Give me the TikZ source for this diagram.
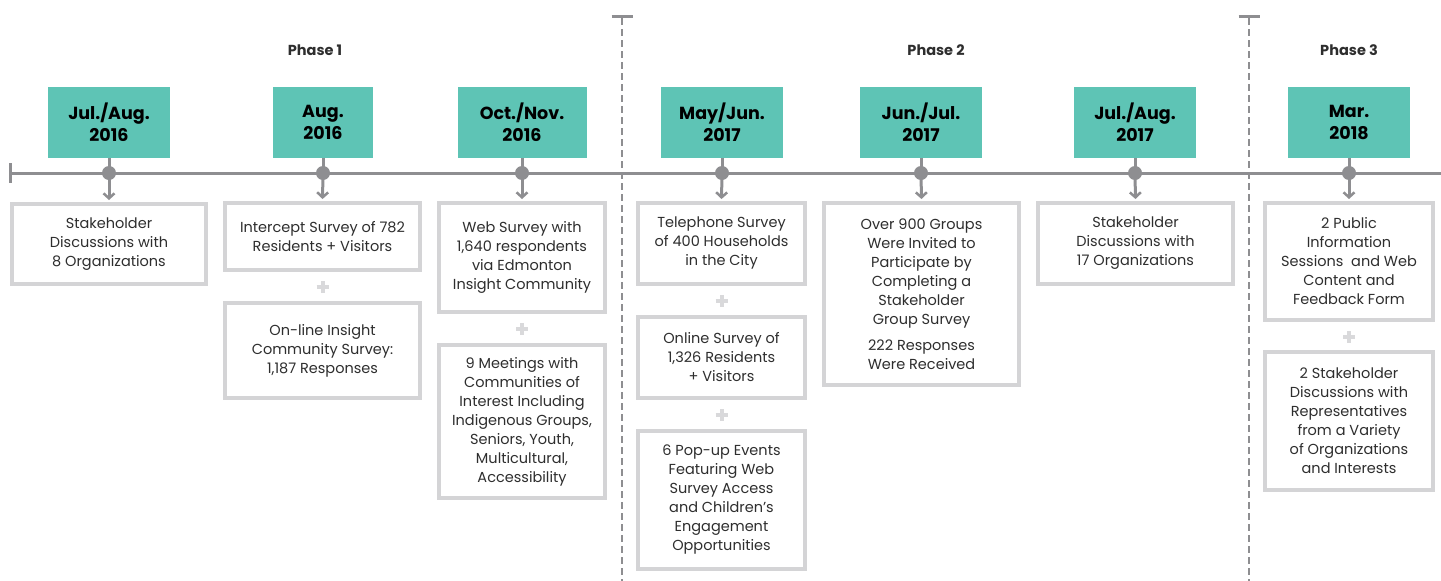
\documentclass[tikz,border=0pt]{standalone}
\usepackage{fontspec}
\setmainfont{Poppins}
\usetikzlibrary{arrows.meta}
\definecolor{teal1}{HTML}{5EC4B5}
\definecolor{lineg}{HTML}{8E8E91}
\definecolor{boxg}{HTML}{D4D4D6}
\definecolor{txt}{HTML}{2E2E2E}
\definecolor{plusg}{HTML}{D9D9DB}
\tikzset{
  datebox/.style={fill=teal1, minimum height=71pt, inner sep=0pt, align=center,
    font=\fontsize{17.5}{22}\selectfont\bfseries, text=black},
  cbox/.style={draw=boxg, line width=4pt, fill=white, inner sep=0pt, align=center,
    font=\fontsize{14.5}{19}\selectfont, text=txt,
    execute at begin node={\rule{0pt}{22pt}}},
  tdot/.style={circle, fill=lineg, minimum size=14pt, inner sep=0pt},
  stem/.style={lineg, line width=3pt},
  arr/.style={lineg, line width=3pt, -{Straight Barb[length=5pt,width=11pt,line width=2.5pt]}, shorten >=2pt},
  phase/.style={font=\fontsize{14.5}{16}\selectfont\bfseries, text=txt},
  plusmark/.style={plusg, line width=4pt},
}
\newcommand{\plusat}[2]{\draw[plusmark] (#1-6,#2) -- (#1+6,#2) (#1,#2-6) -- (#1,#2+6);}
\begin{document}
\begin{tikzpicture}[x=1pt,y=-1pt]
\useasboundingbox (0,0) rectangle (1441,581);
% phase separators
\foreach \xx in {622,1249}{
  \draw[lineg, line width=2.5pt, dash pattern=on 7pt off 4pt] (\xx,18) -- (\xx,581);
  \draw[lineg, line width=3pt] (\xx-10.5,16) -- (\xx+10.5,16);
}
% timeline
\coordinate (tl) at (10,173);
\coordinate (tr) at (1441,173);
\draw[lineg, line width=3pt] (tl) -- (tr);
\draw[lineg, line width=3pt] (10,163) -- (10,183);
% phases
\node[phase] (p1) at (315,50) {Phase 1};
\node[phase] (p2) at (936,50) {Phase 2};
\node[phase] (p3) at (1349,50) {Phase 3};
% date boxes
\node[datebox, minimum width=122pt] (h1) at (109,122.5) {Jul./Aug.\\2016};
\node[datebox, minimum width=100pt] (h2) at (323,122.5) {Aug.\\2016};
\node[datebox, minimum width=129pt] (h3) at (522,122.5) {Oct./Nov.\\2016};
\node[datebox, minimum width=122pt] (h4) at (722,122.5) {May/Jun.\\2017};
\node[datebox, minimum width=122pt] (h5) at (921,122.5) {Jun./Jul.\\2017};
\node[datebox, minimum width=122pt] (h6) at (1135,122.5) {Jul./Aug.\\2017};
\node[datebox, minimum width=122pt] (h7) at (1349,122.5) {Mar.\\2018};
% dots
\node[tdot] (d1) at (109,173) {};
\node[tdot] (d2) at (323,173) {};
\node[tdot] (d3) at (522,173) {};
\node[tdot] (d4) at (722,173) {};
\node[tdot] (d5) at (921,173) {};
\node[tdot] (d6) at (1135,173) {};
\node[tdot] (d7) at (1349,173) {};
% content boxes
\node[cbox, minimum width=194pt, minimum height=80pt] (c1) at (109,244) {Stakeholder\\Discussions with\\8 Organizations};
\node[cbox, minimum width=195pt, minimum height=67pt] (c2a) at (322.5,236.5) {Intercept Survey of 782\\Residents + Visitors};
\node[cbox, minimum width=195pt, minimum height=95pt] (c2b) at (322.5,350.5) {On-line Insight\\Community Survey:\\1,187 Responses};
\node[cbox, minimum width=166pt, minimum height=109pt] (c3a) at (522,257.5) {Web Survey with\\1,640 respondents\\via Edmonton\\Insight Community};
\node[cbox, minimum width=166pt, minimum height=153pt] (c3b) at (522,421.5) {9 Meetings with\\Communities of\\Interest Including\\Indigenous Groups,\\Seniors, Youth,\\Multicultural,\\Accessibility};
\node[cbox, minimum width=167pt, minimum height=81pt] (c4a) at (721.5,243.5) {Telephone Survey\\of 400 Households\\in the City};
\node[cbox, minimum width=167pt, minimum height=81pt] (c4b) at (721.5,357.5) {Online Survey of\\1,326 Residents\\+ Visitors};
\node[cbox, minimum width=167pt, minimum height=138pt] (c4c) at (721.5,500) {6 Pop-up Events\\Featuring Web\\Survey Access\\and Children's\\Engagement\\Opportunities};
\node[cbox, minimum width=195pt, minimum height=182pt] (c5) at (921.5,294) {Over 900 Groups\\Were Invited to\\Participate by\\Completing a\\Stakeholder\\Group Survey\\[7pt]222 Responses\\Were Received};
\node[cbox, minimum width=195pt, minimum height=81pt] (c6) at (1135.5,243.5) {Stakeholder\\Discussions with\\17 Organizations};
\node[cbox, minimum width=168pt, minimum height=117pt] (c7a) at (1349,261.5) {2 Public\\Information\\Sessions\ \ and Web\\Content and\\Feedback Form};
\node[cbox, minimum width=168pt, minimum height=138pt] (c7b) at (1349,421) {2 Stakeholder\\Discussions with\\Representatives\\from a Variety\\of Organizations\\and Interests};
% connectors
\foreach \i/\c in {1/c1,2/c2a,3/c3a,4/c4a,5/c5,6/c6,7/c7a}{
  \draw[stem] (h\i.south) -- (d\i.center);
  \draw[arr] (d\i.center) -- (\c.north);
}
% plus signs
\plusat{322.5}{287}
\plusat{522}{329}
\plusat{721.5}{301}
\plusat{721.5}{415}
\plusat{1349}{337}
\end{tikzpicture}
\end{document}
